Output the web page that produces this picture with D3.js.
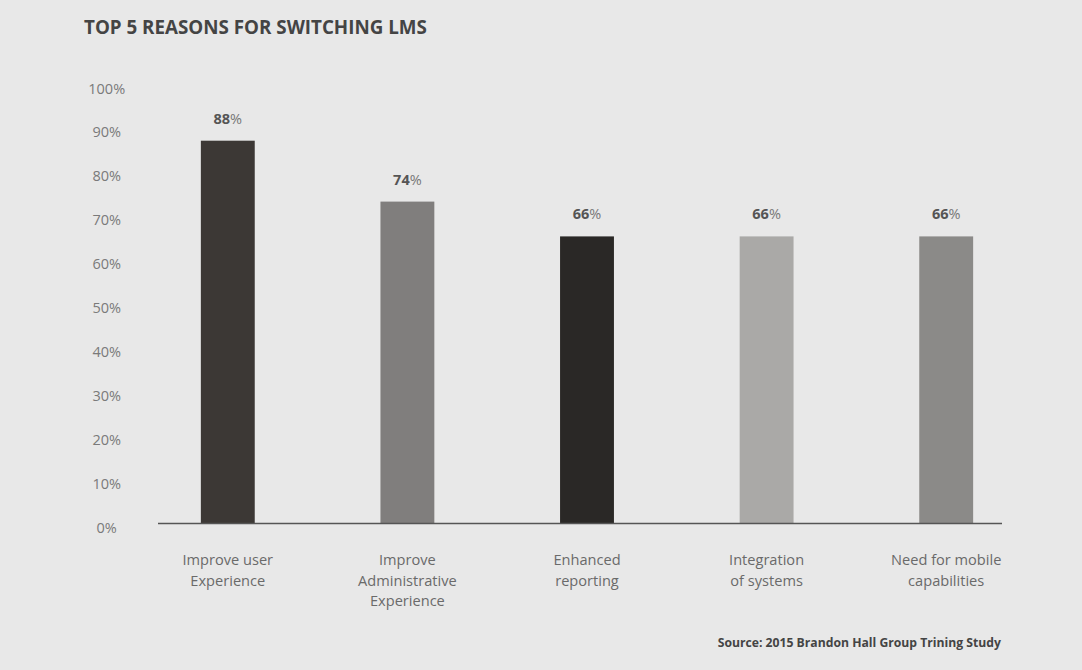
<!DOCTYPE html>
<html>
<head>
<meta charset="utf-8">
<script src="https://cdn.jsdelivr.net/npm/d3@7"></script>
<style>
html,body{margin:0;padding:0;background:#e8e8e8;}
svg{display:block;}
text{font-family:"Open Sans","Noto Sans",sans-serif;}
</style>
</head>
<body>
<script>
const categories = [
  ["Improve user", "Experience"],
  ["Improve", "Administrative", "Experience"],
  ["Enhanced", "reporting"],
  ["Integration", "of systems"],
  ["Need for mobile", "capabilities"]
];
const values = [88, 74, 66, 66, 66];
const barColors = ["#3c3835", "#807e7d", "#2a2826", "#aaa9a7", "#8b8a88"];
const yTicks = [0, 10, 20, 30, 40, 50, 60, 70, 80, 90, 100];
const title = "TOP 5 REASONS FOR SWITCHING LMS";
const source = "Source: 2015 Brandon Hall Group Trining Study";

const W = 1082, H = 670;
const svg = d3.select("body").append("svg").attr("width", W).attr("height", H);
svg.append("rect").attr("width", W).attr("height", H).attr("fill", "#e8e8e8");

const x = d3.scaleBand().domain(d3.range(values.length)).range([138, 1036]).paddingInner(0.7).paddingOuter(0.35);
const y = d3.scaleLinear().domain([0, 100]).range([523.5, 88.5]);

svg.append("text").attr("x", 84).attr("y", 27.5).attr("dy", "0.35em").attr("font-size", 18.8).attr("font-weight", 700)
  .attr("fill", "#444").text(title);

// y tick labels
svg.append("g").selectAll("text").data(yTicks).join("text")
  .attr("x", 106.7).attr("y", d => y(d) + 4 * (1 - d / 100)).attr("dy", "0.35em").attr("text-anchor", "middle")
  .attr("font-size", 14.5).attr("fill", "#7a7a7a").text(d => d + "%");

// bars
svg.append("g").selectAll("rect").data(values).join("rect")
  .attr("x", (d, i) => x(i)).attr("width", x.bandwidth())
  .attr("y", d => y(d)).attr("height", d => y(0) - y(d))
  .attr("fill", (d, i) => barColors[i]);

// axis line
svg.append("line").attr("x1", 158).attr("x2", 1002).attr("y1", y(0)).attr("y2", y(0))
  .attr("stroke", "#555").attr("stroke-width", 1.5);

// value labels
const vl = svg.append("g").selectAll("text").data(values).join("text")
  .attr("x", (d, i) => x(i) + x.bandwidth() / 2).attr("y", d => y(d) - 22).attr("dy", "0.35em")
  .attr("text-anchor", "middle").attr("font-size", 14.5).attr("fill", "#555");
vl.append("tspan").attr("font-weight", 700).text(d => d);
vl.append("tspan").attr("fill", "#777").text("%");

// category labels
svg.append("g").selectAll("text").data(categories).join("text")
  .attr("text-anchor", "middle").attr("font-size", 14.6).attr("fill", "#6a6a6a")
  .each(function(lines, i) {
    d3.select(this).selectAll("tspan").data(lines).join("tspan")
      .attr("x", x(i) + x.bandwidth() / 2).attr("y", (d, j) => 560 + j * 20.5).attr("dy", "0.35em")
      .text(d => d);
  });

svg.append("text").attr("x", 1001).attr("y", 643).attr("dy", "0.35em").attr("text-anchor", "end")
  .attr("font-size", 12.2).attr("font-weight", 700).attr("fill", "#444").text(source);
</script>
</body>
</html>
